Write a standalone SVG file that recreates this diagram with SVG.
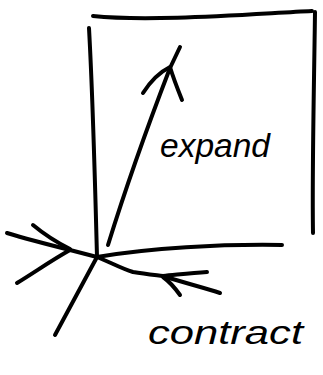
<svg xmlns="http://www.w3.org/2000/svg" width="323" height="375" viewBox="0 0 323 375">
<style>
.s{fill:none;stroke:#000;stroke-width:4;stroke-linecap:round;stroke-linejoin:round}
.t{font-family:"Liberation Sans",Arial,sans-serif;font-style:italic;font-size:34px;fill:#000}
</style>
<rect width="323" height="375" fill="#fff"/>
<g id="frame" class="s">
<path d="M93,16 C150,22 250,14 312,11"/>
<path d="M89,28 C93,100 95,180 97,257"/>
<path d="M315,12 C314,90 312,170 313,233"/>
<path d="M97,257 C150,248 220,244 282,245"/>
</g>
<g id="connectors" class="s">
<path d="M108,245 C125,190 150,120 170,68 L180,47"/>
<path d="M143,93 C150,82 160,72 170,67 C173,77 178,90 182,100"/>
<path d="M7,233 C30,240 50,245 70,250 L97,257"/>
<path d="M33,225 C45,235 58,243 70,249"/>
<path d="M17,283 C35,272 52,260 70,250"/>
<path d="M97,257 L55,335"/>
<path d="M97,257 C110,262 120,268 133,272 C145,274 155,275 163,276 C185,283 205,288 220,293"/>
<path d="M207,272 C190,273 175,275 163,276"/>
<path d="M180,295 C175,288 170,282 163,277"/>
</g>
<g id="expand">
<text class="t" x="160" y="157" textLength="110" lengthAdjust="spacingAndGlyphs">expand</text>
</g>
<g id="contract">
<text class="t" x="148" y="344" textLength="155" lengthAdjust="spacingAndGlyphs">contract</text>
</g>
</svg>
